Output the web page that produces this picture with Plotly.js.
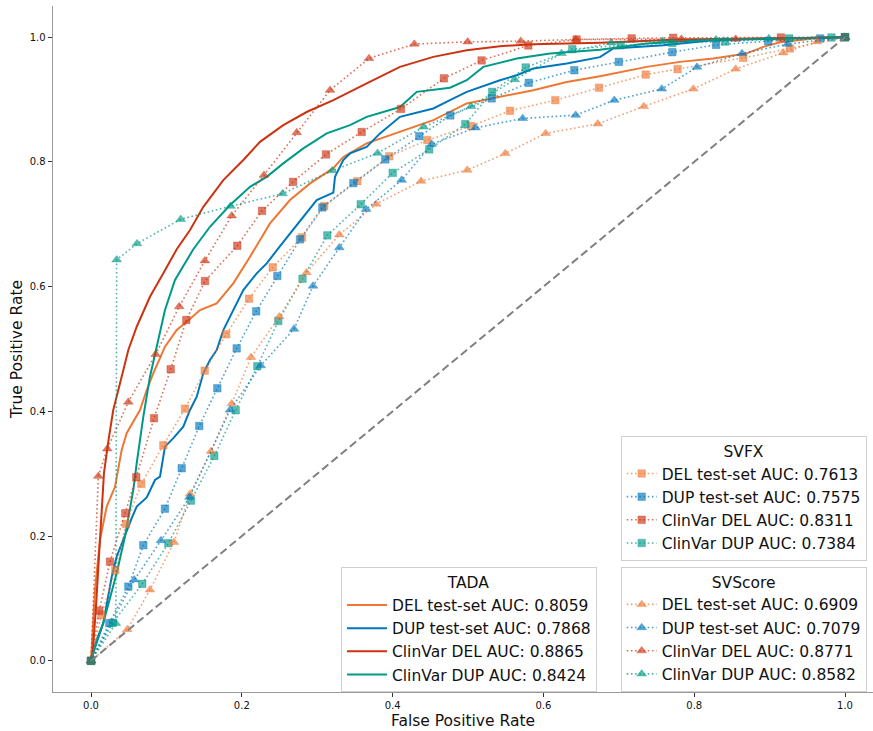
<!DOCTYPE html>
<html><head><meta charset="utf-8">
<script src="https://cdn.plot.ly/plotly-3.0.1.min.js"></script>
<style>body{margin:0;background:#fff}</style></head>
<body><div id="chart" style="width:873px;height:731px"></div>
<script>
// ---- Data ----
const tadaLabels = ['DEL test-set AUC: 0.8059','DUP test-set AUC: 0.7868','ClinVar DEL AUC: 0.8865','ClinVar DUP AUC: 0.8424'];
const svfxLabels = ['DEL test-set AUC: 0.7613','DUP test-set AUC: 0.7575','ClinVar DEL AUC: 0.8311','ClinVar DUP AUC: 0.7384'];
const svscoreLabels = ['DEL test-set AUC: 0.6909','DUP test-set AUC: 0.7079','ClinVar DEL AUC: 0.8771','ClinVar DUP AUC: 0.8582'];
const legendTitles = ['TADA','SVFX','SVScore'];
const xTickVals = [0,0.2,0.4,0.6,0.8,1.0];
const xTickText = ['0.0','0.2','0.4','0.6','0.8','1.0'];
const yTickVals = [0,0.2,0.4,0.6,0.8,1.0];
const yTickText = ['0.0','0.2','0.4','0.6','0.8','1.0'];

const tadaDelX = [0,0.0053,0.0119,0.0208,0.0318,0.0407,0.0473,0.065,0.0739,0.0826,0.0981,0.1137,0.1269,0.1446,0.1667,0.1887,0.2109,0.2374,0.2639,0.2905,0.3214,0.3346,0.3656,0.4098,0.454,0.4983,0.5424,0.5866,0.6309,0.675,0.737,0.781,0.8253,0.8696,0.8917,0.914,0.958,1];
const tadaDelY = [0,0.1138,0.194,0.2473,0.279,0.338,0.365,0.4022,0.4343,0.461,0.5037,0.5304,0.5438,0.5625,0.573,0.6053,0.648,0.7014,0.7388,0.7655,0.79,0.808,0.8297,0.848,0.867,0.8937,0.9043,0.915,0.928,0.9375,0.9524,0.9604,0.966,0.974,0.9845,0.992,0.998,1];

const tadaDupX = [0,0.0076,0.0163,0.0275,0.0341,0.0451,0.054,0.0606,0.0739,0.0849,0.0915,0.0981,0.1092,0.1224,0.1313,0.1402,0.1489,0.1578,0.1667,0.1755,0.1887,0.202,0.2198,0.233,0.2507,0.2816,0.2993,0.3214,0.3236,0.3346,0.3435,0.3656,0.3833,0.4098,0.454,0.4761,0.4983,0.5424,0.5646,0.5866,0.6309,0.675,0.6927,0.759,0.8253,0.914,1];
const tadaDupY = [0,0.0337,0.0604,0.135,0.167,0.2019,0.2287,0.2473,0.262,0.29,0.2954,0.3434,0.357,0.3755,0.4022,0.4236,0.461,0.4824,0.4984,0.5304,0.5625,0.5946,0.6213,0.6373,0.665,0.712,0.7388,0.7508,0.776,0.803,0.8136,0.824,0.8457,0.8723,0.8857,0.899,0.9123,0.931,0.939,0.9498,0.9578,0.968,0.9819,0.987,0.995,0.998,1];

const tadaCvDelX = [0,0.0023,0.0066,0.0119,0.0172,0.0232,0.0295,0.0385,0.0495,0.0606,0.0782,0.0959,0.1137,0.1313,0.149,0.1755,0.202,0.2241,0.255,0.286,0.3214,0.3656,0.4098,0.454,0.4983,0.5424,0.5866,0.675,0.781,0.914,1];
const tadaCvDelY = [0,0.0128,0.087,0.194,0.301,0.354,0.4022,0.445,0.4984,0.5357,0.5838,0.6213,0.66,0.6907,0.728,0.7708,0.803,0.8322,0.859,0.88,0.899,0.9258,0.9524,0.9684,0.979,0.9856,0.9888,0.991,0.9963,0.998,1];

const tadaCvDupX = [0,0.0031,0.0163,0.0341,0.0451,0.0561,0.0606,0.065,0.0694,0.0782,0.0871,0.0981,0.1114,0.1357,0.1578,0.1844,0.2109,0.233,0.255,0.2816,0.3126,0.3435,0.3656,0.4098,0.432,0.4761,0.4983,0.5203,0.5646,0.6088,0.675,0.737,0.8253,0.914,1];
const tadaCvDupY = [0,0.0128,0.0608,0.141,0.1993,0.274,0.3168,0.354,0.3915,0.4556,0.5037,0.5625,0.6106,0.66,0.696,0.7308,0.76,0.776,0.7976,0.8216,0.8457,0.859,0.8723,0.888,0.9123,0.919,0.931,0.9524,0.9658,0.9738,0.98,0.9899,0.9963,0.998,1];

const svfxDelX = [0,0.0137,0.0322,0.0464,0.0667,0.0959,0.1247,0.1508,0.1794,0.2095,0.241,0.2798,0.3093,0.3532,0.3956,0.446,0.504,0.5557,0.6158,0.6737,0.7357,0.778,0.865,0.927,1];
const svfxDelY = [0,0.0732,0.1454,0.2196,0.2837,0.3457,0.4043,0.4652,0.5236,0.5806,0.631,0.679,0.7292,0.769,0.809,0.835,0.8576,0.882,0.899,0.919,0.94,0.9487,0.9668,0.982,1];

const svfxDupX = [0,0.0243,0.0495,0.0694,0.0981,0.1203,0.1436,0.1675,0.1932,0.2191,0.2471,0.2772,0.3068,0.3479,0.3903,0.4354,0.4765,0.5314,0.5805,0.641,0.7,0.771,0.829,0.898,0.967,1];
const svfxDupY = [0,0.0604,0.119,0.1854,0.244,0.3088,0.3766,0.437,0.501,0.5604,0.617,0.6758,0.727,0.766,0.804,0.8413,0.8745,0.9018,0.9268,0.947,0.9604,0.976,0.9877,0.9936,0.998,1];

const svfxCvDelX = [0,0.011,0.0252,0.0455,0.06,0.0836,0.1057,0.1264,0.1512,0.194,0.2268,0.268,0.3117,0.359,0.4111,0.468,0.518,0.58,0.644,0.717,0.772,0.915,1];
const svfxCvDelY = [0,0.0806,0.159,0.2367,0.2944,0.389,0.4675,0.5465,0.609,0.6655,0.7216,0.768,0.812,0.848,0.885,0.934,0.9627,0.9867,0.9963,0.998,0.999,0.9995,1];

const svfxCvDupX = [0,0.029,0.068,0.1025,0.1326,0.1635,0.1919,0.2206,0.2484,0.2805,0.3134,0.3577,0.4001,0.4485,0.4964,0.532,0.5765,0.6383,0.7025,0.771,0.8412,0.926,0.982,1];
const svfxCvDupY = [0,0.061,0.1234,0.1886,0.2569,0.3285,0.4018,0.4723,0.5449,0.6127,0.6822,0.732,0.7825,0.82,0.8606,0.9123,0.9514,0.9808,0.987,0.9909,0.993,0.998,0.9995,1];

const svsDelX = [0,0.0481,0.0782,0.11,0.1313,0.1592,0.1866,0.2122,0.2497,0.2858,0.3293,0.3782,0.4377,0.499,0.5495,0.603,0.672,0.733,0.7988,0.855,0.918,0.963,1];
const svsDelY = [0,0.0502,0.1138,0.19,0.2676,0.336,0.4123,0.4867,0.5518,0.6226,0.6832,0.7324,0.7692,0.7869,0.8136,0.8457,0.861,0.889,0.917,0.949,0.975,0.993,1];

const svsDupX = [0,0.0574,0.0928,0.1306,0.1844,0.2251,0.2692,0.2944,0.3293,0.3647,0.412,0.4519,0.51,0.5725,0.6428,0.694,0.757,0.8037,0.8634,0.9235,1];
const svsDupY = [0,0.1298,0.1928,0.2623,0.4022,0.4732,0.532,0.601,0.6624,0.7239,0.7708,0.8285,0.8547,0.8697,0.875,0.899,0.917,0.952,0.9739,0.9888,1];

const svsCvDelX = [0,0.0097,0.0216,0.0495,0.0858,0.117,0.151,0.1866,0.2294,0.2728,0.317,0.3687,0.4288,0.4996,0.57,0.643,0.783,0.855,1];
const svsCvDelY = [0,0.296,0.34,0.415,0.4915,0.568,0.6415,0.7136,0.7788,0.847,0.915,0.966,0.989,0.9925,0.9936,0.9963,0.997,0.997,1];

const svsCvDupX = [0,0.033,0.034,0.061,0.119,0.185,0.254,0.32,0.38,0.441,0.504,0.562,0.624,0.69,0.758,0.829,0.899,1];
const svsCvDupY = [0,0.06,0.643,0.669,0.708,0.729,0.749,0.786,0.814,0.856,0.889,0.932,0.974,0.991,0.994,0.996,0.998,1];

const diagX = [0,1];
const diagY = [0,1];

// ---- Styles ----
const COLORS = [[238,119,51],[0,119,187],[204,51,17],[0,153,136]];
const rgb = (c,a) => `rgba(${c[0]},${c[1]},${c[2]},${a})`;
const FONT = 'DejaVu Sans, sans-serif';

const tadaData = [[tadaDelX,tadaDelY],[tadaDupX,tadaDupY],[tadaCvDelX,tadaCvDelY],[tadaCvDupX,tadaCvDupY]];
const svfxData = [[svfxDelX,svfxDelY],[svfxDupX,svfxDupY],[svfxCvDelX,svfxCvDelY],[svfxCvDupX,svfxCvDupY]];
const svsData = [[svsDelX,svsDelY],[svsDupX,svsDupY],[svsCvDelX,svsCvDelY],[svsCvDupX,svsCvDupY]];

const traces = [];
tadaData.forEach((d,i) => traces.push({
  type:'scatter', mode:'lines', x:d[0], y:d[1], name:tadaLabels[i], legend:'legend',
  line:{color:rgb(COLORS[i],1), width:2}
}));
svfxData.forEach((d,i) => traces.push({
  type:'scatter', mode:'lines+markers', x:d[0], y:d[1], name:svfxLabels[i], legend:'legend2',
  line:{color:rgb(COLORS[i],0.7), width:1.6, dash:'1.6px,2.6px'},
  marker:{symbol:'square', size:7.5, color:rgb(COLORS[i],0.65), line:{width:1, color:rgb(COLORS[i],0.35)}}
}));
svsData.forEach((d,i) => traces.push({
  type:'scatter', mode:'lines+markers', x:d[0], y:d[1], name:svscoreLabels[i], legend:'legend3',
  line:{color:rgb(COLORS[i],0.7), width:1.6, dash:'1.6px,2.6px'},
  marker:{symbol:'triangle-up', size:8.5, color:rgb(COLORS[i],0.65), line:{width:1, color:rgb(COLORS[i],0.35)}}
}));
traces.push({type:'scatter', mode:'lines', x:diagX, y:diagY, showlegend:false, hoverinfo:'skip',
  line:{color:'#808080', width:2, dash:'8px,4px'}});

const legendBase = {
  bgcolor:'rgba(255,255,255,0.85)', bordercolor:'#d0d0d0', borderwidth:1,
  font:{family:FONT, size:15.5, color:'#111'}, xanchor:'left', yanchor:'top',
  traceorder:'normal'
};
const layout = {
  width:873, height:731,
  margin:{l:53, r:0, t:6, b:39},
  paper_bgcolor:'#fff', plot_bgcolor:'#fff',
  font:{family:FONT, color:'#111'},
  xaxis:{range:[-0.0504,1.0371], tickvals:xTickVals, ticktext:xTickText,
    showgrid:false, zeroline:false, showline:true, linecolor:'#9a9a9a', linewidth:1.4,
    ticks:'outside', ticklen:4, tickwidth:1, tickcolor:'#333',
    tickfont:{family:FONT, size:10, color:'#111'},
    title:{text:'False Positive Rate', font:{family:FONT, size:15.5, color:'#111'}, standoff:4}},
  yaxis:{range:[-0.05,1.05], tickvals:yTickVals, ticktext:yTickText,
    showgrid:false, zeroline:false, showline:true, linecolor:'#9a9a9a', linewidth:1.4,
    ticks:'outside', ticklen:4, tickwidth:1, tickcolor:'#333',
    tickfont:{family:FONT, size:10, color:'#111'},
    title:{text:'True Positive Rate', font:{family:FONT, size:15.5, color:'#111'}, standoff:3}},
  legend: Object.assign({}, legendBase, {x:0.3512, y:0.1818, itemwidth:40, title:{text:legendTitles[0], side:'top center', font:{family:FONT,size:15.5}}}),
  legend2: Object.assign({}, legendBase, {x:0.6923, y:0.3735, title:{text:legendTitles[1], side:'top center', font:{family:FONT,size:15.5}}}),
  legend3: Object.assign({}, legendBase, {x:0.6923, y:0.1827, title:{text:legendTitles[2], side:'top center', font:{family:FONT,size:15.5}}}),
  showlegend:true
};
Plotly.newPlot('chart', traces, layout, {displayModeBar:false, staticPlot:true});
</script></body></html>
